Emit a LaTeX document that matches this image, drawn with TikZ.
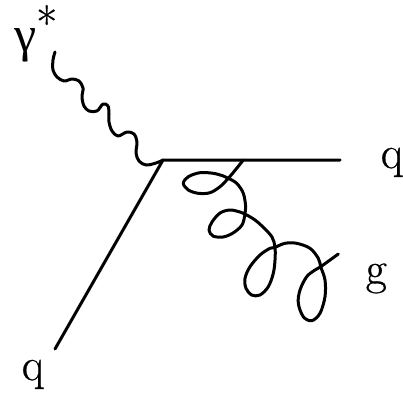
\documentclass[tikz,border=0pt]{standalone}
\usepackage{fontspec}
\newfontfamily\gamfont{Liberation Serif}
\newfontfamily\labfont{Latin Modern Roman}[FakeBold=0.6]
\begin{document}
\begin{tikzpicture}[x=1pt,y=-1pt,
  line/.style={line width=3pt, line cap=round, line join=round},
  lab/.style={inner sep=0pt, anchor=base west, font=\labfont\fontsize{46}{50}\selectfont},
  glab/.style={inner sep=0pt, anchor=base west, font=\gamfont\fontsize{50}{55}\selectfont}]
\useasboundingbox (0,0) rectangle (403,397);
\coordinate (v) at (163,160);
\coordinate (qout) at (340,160);
\coordinate (qin) at (55,349);
\coordinate (gs) at (243.3,160);
\coordinate (ge) at (338.3,254);
\coordinate (ps) at (55,52);
% quark lines
\draw[line] (qin) -- (v) -- (qout);
% photon
\draw[line] plot[smooth, tension=0.55] coordinates {
 (ps) (53,60) (53,70) (57,77) (64,81) (72,79) (79,81) (83,88) (82,97)
 (84,106) (89,111) (97,111) (103,104) (108,106) (109,114) (109,122) (112,131)
 (118,136) (127,132) (134,134) (137,142) (136,153) (139,161) (146,165) (156,163) (v)};
% gluon
\draw[line] plot[smooth, tension=0.55] coordinates {
 (gs) (236.7,168.3) (228.3,178.3) (220,186.7) (210,192.7) (198.3,193.3) (188.3,190)
 (183.3,183.3) (188.3,176.7) (200,172.7) (213.3,173.3) (223.3,176) (228.3,178.3)
 (236.7,183.3) (243.3,193.3) (245.7,206.7) (245,214) (242,225) (233,233) (223,237)
 (213,236) (209,230) (212,222) (220,213) (230,210) (240,212) (245,214) (255,220)
 (263,227) (272,237) (275,247.3) (275,260) (273.3,273.3) (268.3,286.7) (260,295)
 (251.7,295) (246,288.3) (245,278.3) (250,266.7) (260,255) (270,248.3) (275,247.3)
 (285,243.3) (296.7,243.3) (310,248.3) (318.3,258.3) (320.7,266.7) (325,280)
 (325,296.7) (320,313.3) (311.7,320.7) (303.3,316.7) (298.3,303.3) (300,290)
 (306.7,276.7) (315,270) (320.7,266.7) (330,260) (ge)};
% labels
\node[lab] (lq1) at (380.5,168) {q};
\node[lab] (lg) at (365.5,284) {g};
\node[lab] (lq2) at (21.5,380) {q};
\node[glab] (lgam) at (14,51) {γ};
\node[lab] (lstar) at (36,39.5) {*};
\end{tikzpicture}
\end{document}
